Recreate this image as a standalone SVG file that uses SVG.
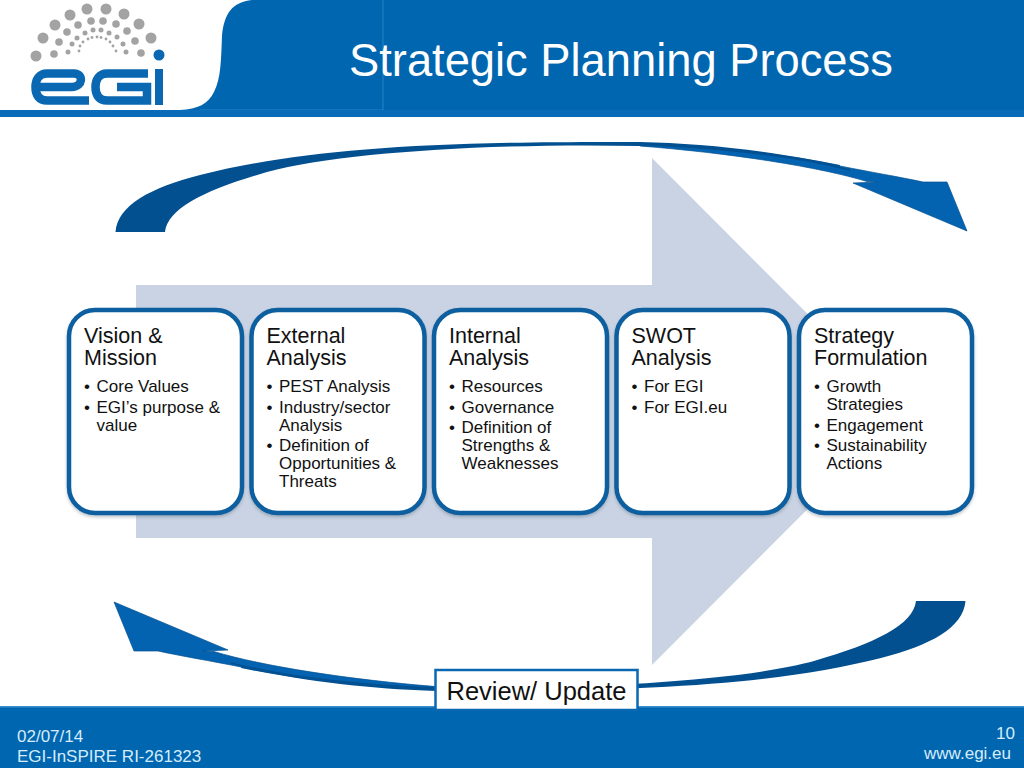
<svg xmlns="http://www.w3.org/2000/svg" xmlns:xlink="http://www.w3.org/1999/xlink" width="1024" height="768" viewBox="0 0 1024 768">
<defs>
<style>
text{font-family:"Liberation Sans",Arial,sans-serif;fill:#111}
.h{font-size:21.500px}
.b{font-size:17px}
.card{fill:#fff;stroke:#0a5f9f;stroke-width:4.500}
.g{fill:#a3a3a3}
.ft{font-size:17px;fill:#d6ecfa}
.logo{fill:none;stroke:#0a68b2;stroke-width:8.500}
</style>
<filter id="sh" x="-5%" y="-5%" width="110%" height="110%"><feDropShadow dx="0" dy="2" stdDeviation="1.500" flood-color="#345" flood-opacity=".3"/></filter>
<g id="swoosh">
<path fill="#035090" d="M115.500 232C118 205 150 188 200 175C300 150 420 141 640 142C700 143.500 760 149 840 165L838 171C760 155 700 149 640 146C500 143 340 152 267 172C205 190 168 208 165 232Z"/>
<path fill="#0463b0" stroke="#035090" stroke-width=".7" stroke-linejoin="round" d="M640 144C720 146 790 155 840 166C870 172 900 177 923 182L947 182L967 231L853 183L878 182L867 181.500C820 167 730 153 640 146Z"/>
<path fill="none" stroke="#035090" stroke-width="1.800" d="M640 144.500C730 148 800 157 850 170"/>
</g>
</defs>
<rect width="1024" height="768" fill="#fff"/>
<g id="header">
<path fill="#0066b0" d="M1024 0H252C232 2 224 14 222 36C221 60 221 78 214 92C208 104 198 109 180 110H0V117H1024Z"/>
<path fill="none" stroke="#2a84c6" stroke-width="1" d="M383 0V110H200"/>
<rect x="0" y="110" width="1024" height="7" fill="#0a6cb8"/>
<text x="349" y="76" style="font-size:45.300px;fill:#fff">Strategic Planning Process</text>
</g>
<g id="logo">
<g class="g">
<circle cx="36" cy="56" r="5.500"/><circle cx="43" cy="38" r="5.500"/><circle cx="55" cy="25" r="5.500"/><circle cx="70" cy="15" r="5.500"/><circle cx="87" cy="9" r="5.500"/><circle cx="106" cy="9" r="5.500"/><circle cx="124" cy="14" r="5.500"/><circle cx="139" cy="24" r="5.500"/><circle cx="151" cy="38" r="5.500"/>
<circle cx="54" cy="54" r="3.800"/><circle cx="59" cy="42" r="3.800"/><circle cx="67" cy="32" r="3.800"/><circle cx="78" cy="25" r="3.800"/><circle cx="91" cy="21" r="3.800"/><circle cx="103" cy="21" r="3.800"/><circle cx="116" cy="24" r="3.800"/><circle cx="127" cy="31" r="3.800"/><circle cx="135" cy="41" r="3.800"/><circle cx="141" cy="53" r="3.800"/>
<circle cx="68" cy="52" r="2.500"/><circle cx="72" cy="44" r="2.500"/><circle cx="77" cy="38" r="2.500"/><circle cx="85" cy="33" r="2.500"/><circle cx="93" cy="30" r="2.500"/><circle cx="101" cy="30" r="2.500"/><circle cx="109" cy="33" r="2.500"/><circle cx="117" cy="37" r="2.500"/><circle cx="123" cy="44" r="2.500"/><circle cx="126" cy="52" r="2.500"/>
<circle cx="79" cy="51" r="1.400"/><circle cx="80" cy="46" r="1.400"/><circle cx="83" cy="42" r="1.400"/><circle cx="88" cy="39" r="1.400"/><circle cx="92" cy="37.500" r="1.400"/><circle cx="97" cy="37" r="1.400"/><circle cx="101" cy="37.500" r="1.400"/><circle cx="106" cy="39" r="1.400"/><circle cx="110" cy="42" r="1.400"/><circle cx="113" cy="46" r="1.400"/><circle cx="116" cy="51" r="1.400"/>
</g>
<circle cx="159" cy="55" r="5.500" fill="#0a68b2"/>
<path class="logo" d="M38 87H72C83 87 84 73.500 74 73.500H47C39 73.500 35.500 80 35.500 87C35.500 95 39 100.500 47 100.500H89"/>
<path class="logo" d="M148 73.500H107C99 73.500 95.500 80 95.500 87C95.500 95 99 100.500 107 100.500H147V87H117"/>
<rect x="155" y="69" width="8" height="36" fill="#0a68b2"/>
</g>
<g id="big-arrow"><path fill="#cad3e4" d="M136 285H652V158L905 411.500L652 665V538H136Z"/></g>
<g id="connectors">
<use xlink:href="#swoosh" href="#swoosh"/>
<use xlink:href="#swoosh" href="#swoosh" transform="rotate(180 540.500 416.500)"/>
</g>
<g id="footer">
<rect y="707" width="1024" height="61" fill="#0066b0"/>
<rect y="706" width="1024" height="1.500" fill="#3a8fcb"/>
<text class="ft" x="17" y="741.500">02/07/14</text>
<text class="ft" x="17" y="762">EGI-InSPIRE RI-261323</text>
<text class="ft" x="1015" y="739" text-anchor="end">10</text>
<text class="ft" x="1011" y="759" text-anchor="end">www.egi.eu</text>
</g>
<g id="node-vision">
<rect class="card" x="69" y="310" width="173" height="203" rx="26" filter="url(#sh)"/>
<text class="h" x="84" y="343">Vision &amp;</text><text class="h" x="84" y="365">Mission</text>
<text class="b" x="84" y="392">•</text><text class="b" x="96.500" y="392">Core Values</text>
<text class="b" x="84" y="413">•</text><text class="b" x="96.500" y="413">EGI’s purpose &amp;</text>
<text class="b" x="96.500" y="431">value</text>
</g>
<g id="node-external">
<rect class="card" x="251.500" y="310" width="173" height="203" rx="26" filter="url(#sh)"/>
<text class="h" x="266.500" y="343">External</text><text class="h" x="266.500" y="365">Analysis</text>
<text class="b" x="266.500" y="392">•</text><text class="b" x="279" y="392">PEST Analysis</text>
<text class="b" x="266.500" y="413">•</text><text class="b" x="279" y="413">Industry/sector</text>
<text class="b" x="279" y="431">Analysis</text>
<text class="b" x="266.500" y="451">•</text><text class="b" x="279" y="451">Definition of</text>
<text class="b" x="279" y="469">Opportunities &amp;</text>
<text class="b" x="279" y="487">Threats</text>
</g>
<g id="node-internal">
<rect class="card" x="434" y="310" width="173" height="203" rx="26" filter="url(#sh)"/>
<text class="h" x="449" y="343">Internal</text><text class="h" x="449" y="365">Analysis</text>
<text class="b" x="449" y="392">•</text><text class="b" x="461.500" y="392">Resources</text>
<text class="b" x="449" y="413">•</text><text class="b" x="461.500" y="413">Governance</text>
<text class="b" x="449" y="433">•</text><text class="b" x="461.500" y="433">Definition of</text>
<text class="b" x="461.500" y="451">Strengths &amp;</text>
<text class="b" x="461.500" y="469">Weaknesses</text>
</g>
<g id="node-swot">
<rect class="card" x="616.500" y="310" width="173" height="203" rx="26" filter="url(#sh)"/>
<text class="h" x="631.500" y="343">SWOT</text><text class="h" x="631.500" y="365">Analysis</text>
<text class="b" x="631.500" y="392">•</text><text class="b" x="644" y="392">For EGI</text>
<text class="b" x="631.500" y="413">•</text><text class="b" x="644" y="413">For EGI.eu</text>
</g>
<g id="node-strategy">
<rect class="card" x="799" y="310" width="173" height="203" rx="26" filter="url(#sh)"/>
<text class="h" x="814" y="343">Strategy</text><text class="h" x="814" y="365">Formulation</text>
<text class="b" x="814" y="392">•</text><text class="b" x="826.500" y="392">Growth</text>
<text class="b" x="826.500" y="410">Strategies</text>
<text class="b" x="814" y="431">•</text><text class="b" x="826.500" y="431">Engagement</text>
<text class="b" x="814" y="451">•</text><text class="b" x="826.500" y="451">Sustainability</text>
<text class="b" x="826.500" y="469">Actions</text>
</g>
<g id="node-review">
<rect x="435.500" y="670" width="202" height="40" fill="#fff" stroke="#0a68b2" stroke-width="2.500"/>
<text x="536.500" y="700" text-anchor="middle" style="font-size:25.500px">Review/ Update</text>
</g>
</svg>
